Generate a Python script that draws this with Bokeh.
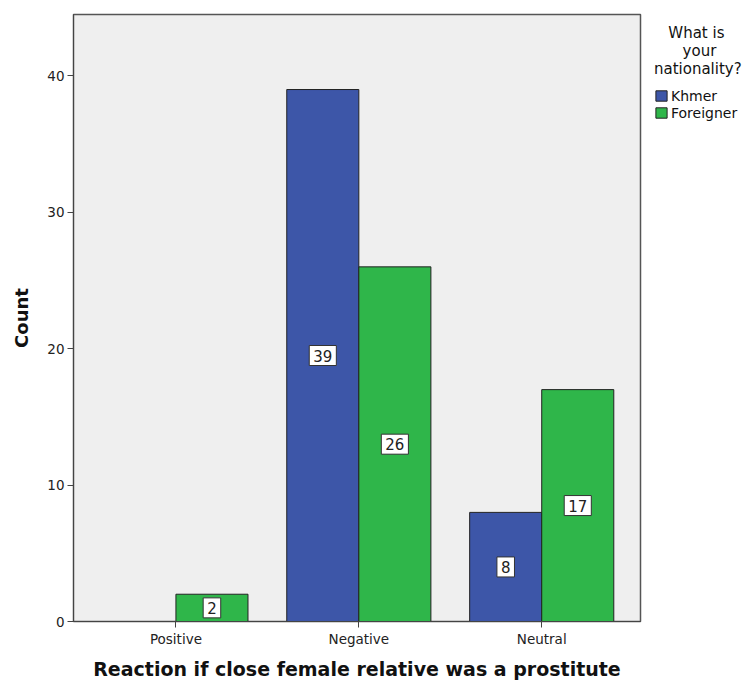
from bokeh.plotting import figure
from bokeh.models import ColumnDataSource, FixedTicker, Legend, LegendItem, Range1d
from bokeh.core.properties import value
from bokeh.embed import file_html
from bokeh.resources import INLINE

categories = ["Positive", "Negative", "Neutral"]
khmer = [0, 39, 8]
foreigner = [2, 26, 17]
y_ticks = [0, 10, 20, 30, 40]

bw = 0.394
xs = list(range(len(categories)))

kx = [x - bw / 2 for x, v in zip(xs, khmer) if v > 0]
kv = [v for v in khmer if v > 0]
fx = [x + bw / 2 for x, v in zip(xs, foreigner) if v > 0]
fv = [v for v in foreigner if v > 0]

ksrc = ColumnDataSource(dict(x=kx, top=kv, mid=[v / 2 for v in kv], lab=[str(v) for v in kv]))
fsrc = ColumnDataSource(dict(x=fx, top=fv, mid=[v / 2 for v in fv], lab=[str(v) for v in fv]))

p = figure(frame_width=567, frame_height=607, output_backend="svg", toolbar_location=None,
           x_range=Range1d(-0.56, 2.54), y_range=Range1d(0, 44.5),
           min_border_left=73, min_border_right=0, min_border_top=14, min_border_bottom=53)
p.background_fill_color = "#efefef"
p.border_fill_color = "white"
p.outline_line_color = "#555555"
p.outline_line_width = 1.5
p.grid.visible = False

kr = p.vbar(x="x", top="top", width=bw, source=ksrc, fill_color="#3d56a8", line_color="#222222", line_width=1)
fr = p.vbar(x="x", top="top", width=bw, source=fsrc, fill_color="#2fb64a", line_color="#222222", line_width=1)

for src in (ksrc, fsrc):
    p.text(x="x", y="mid", text="lab", source=src, text_align="center", text_baseline="middle",
           text_font=value("DejaVu Sans"), text_font_size="15px", text_color="#222222",
           background_fill_color="white", border_line_color="#333333", border_line_width=1,
           padding=4)

p.xaxis.ticker = FixedTicker(ticks=xs)
p.xaxis.major_label_overrides = {i: c for i, c in enumerate(categories)}
p.yaxis.ticker = FixedTicker(ticks=y_ticks)
for ax in (p.xaxis, p.yaxis):
    ax.minor_tick_line_color = None
    ax.major_tick_in = 0
    ax.major_tick_out = 6
    ax.major_label_standoff = 3
    ax.axis_line_color = "#444444"
    ax.major_tick_line_color = "#444444"
    ax.major_label_text_font = "DejaVu Sans"
    ax.major_label_text_font_size = "13.5px"
    ax.major_label_text_color = "#222222"
    ax.axis_label_text_font = "DejaVu Sans"
    ax.axis_label_text_font_style = "bold"
    ax.axis_label_text_color = "#111111"
p.xaxis.axis_label = "Reaction if close female relative was a prostitute"
p.xaxis.axis_label_text_font_size = "19px"
p.xaxis.axis_label_standoff = 8
p.yaxis.axis_label = "Count"
p.yaxis.axis_label_text_font_size = "18px"
p.yaxis.axis_label_standoff = 12

nb = "\u00a0"
legend = Legend(items=[LegendItem(label="Khmer", renderers=[kr]), LegendItem(label="Foreigner", renderers=[fr])],
                title=nb * 3 + "What is\n" + nb * 6 + "your\nnationality?",
                title_text_font="DejaVu Sans", title_text_font_size="15px",
                title_text_font_style="normal", title_text_color="#111111",
                title_standoff=9,
                label_text_font="DejaVu Sans", label_text_font_size="14px", label_text_color="#111111",
                glyph_width=14, glyph_height=13, label_height=17, label_standoff=3, spacing=0, padding=4, margin=0,
                border_line_color=None, background_fill_alpha=0, location=(14, 500))
p.add_layout(legend, "right")

open("out.html", "w").write(file_html(p, INLINE))
